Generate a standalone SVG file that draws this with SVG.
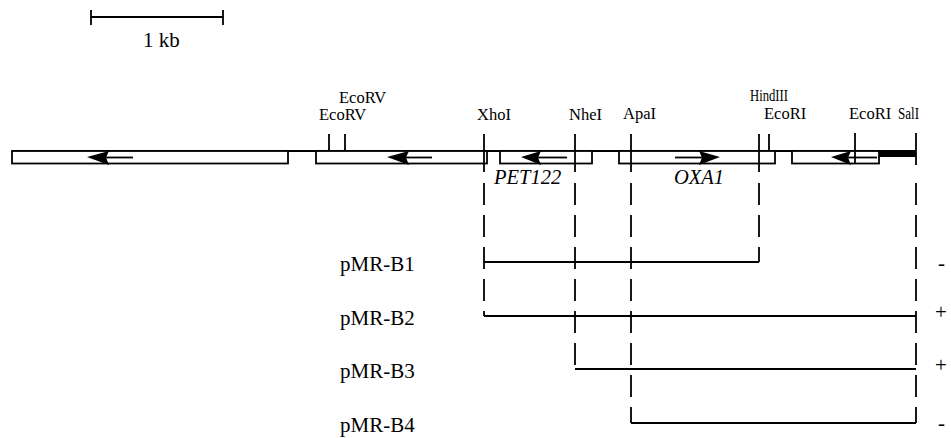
<svg xmlns="http://www.w3.org/2000/svg" width="951" height="438" viewBox="0 0 951 438">
<style>
.t{font-family:"Liberation Serif","Times New Roman",serif;fill:#000}
.re{font-size:16.5px}
.lb{font-size:21px}
.gi{font-size:20.5px;font-style:italic}
.ln{stroke:#000;stroke-width:1.8;fill:none}
.box{stroke:#000;stroke-width:1.8;fill:#fff}
.dash{stroke:#000;stroke-width:1.8;fill:none;stroke-dasharray:22 10}
.ah{fill:#000;stroke:none}
</style>
<rect width="951" height="438" fill="#fff"/>
<g id="scalebar">
<line class="ln" x1="91" y1="17" x2="223" y2="17" stroke-width="2"/>
<line class="ln" x1="91" y1="10" x2="91" y2="25" stroke-width="2"/>
<line class="ln" x1="223" y1="10" x2="223" y2="25" stroke-width="2"/>
<text class="t lb" x="143" y="47" font-size="20">1 kb</text>
</g>
<g id="map">
<polyline class="ln" points="12,151 916,151"/>
<rect class="box" x="12" y="151" width="276" height="12.5"/>
<rect class="box" x="316" y="151" width="171" height="12.5"/>
<rect class="box" x="500" y="151" width="92" height="12.5"/>
<rect class="box" x="619" y="151" width="156" height="12.5"/>
<rect class="box" x="792" y="151" width="87" height="12.5"/>
<rect x="879" y="150" width="37" height="7" fill="#000"/>
</g>
<g id="arrows">
<line class="ln" x1="106" y1="157.5" x2="133" y2="157.5" stroke-width="2"/>
<polygon class="ah" points="87,157 109,151 106,157.5 109,165"/>
<line class="ln" x1="406" y1="157.5" x2="432" y2="157.5" stroke-width="2"/>
<polygon class="ah" points="387,157 409,151 406,157.5 409,165"/>
<line class="ln" x1="538" y1="157.5" x2="567" y2="157.5" stroke-width="2"/>
<polygon class="ah" points="521,157 541,151 538,157.5 541,165"/>
<line class="ln" x1="675" y1="157.5" x2="702" y2="157.5" stroke-width="2"/>
<polygon class="ah" points="720,157 699,151 702,157.5 699,165"/>
<line class="ln" x1="848" y1="157.5" x2="877" y2="157.5" stroke-width="2"/>
<polygon class="ah" points="831,157 851,151 848,157.5 851,165"/>
</g>
<g id="sites">
<line class="ln" x1="329" y1="134" x2="329" y2="151"/>
<line class="ln" x1="345" y1="134" x2="345" y2="151"/>
<line class="ln" x1="484" y1="134" x2="484" y2="172"/>
<line class="ln" x1="575" y1="134" x2="575" y2="172"/>
<line class="ln" x1="631" y1="134" x2="631" y2="172"/>
<line class="ln" x1="759" y1="134" x2="759" y2="172"/>
<line class="ln" x1="769" y1="134" x2="769" y2="151"/>
<line class="ln" x1="855" y1="133" x2="855" y2="163"/>
<line class="ln" x1="916" y1="133" x2="916" y2="165"/>
<text class="t re" x="339" y="103">EcoRV</text>
<text class="t re" x="319" y="120">EcoRV</text>
<text class="t re" x="477" y="120">XhoI</text>
<text class="t re" x="569" y="120">NheI</text>
<text class="t re" x="623" y="119">ApaI</text>
<text class="t re" x="750" y="101" textLength="38" lengthAdjust="spacingAndGlyphs">HindIII</text>
<text class="t re" x="764" y="119">EcoRI</text>
<text class="t re" x="849" y="119">EcoRI</text>
<text class="t re" x="898" y="119" textLength="21" lengthAdjust="spacingAndGlyphs">SalI</text>
</g>
<g id="genes">
<text class="t gi" x="494" y="184">PET122</text>
<text class="t gi" x="674" y="184">OXA1</text>
</g>
<g id="connectors">
<line class="dash" x1="484" y1="183" x2="484" y2="316"/>
<line class="dash" x1="575" y1="183" x2="575" y2="369"/>
<line class="dash" x1="631" y1="183" x2="631" y2="423"/>
<line class="dash" x1="759" y1="183" x2="759" y2="262"/>
<line class="dash" x1="916" y1="183" x2="916" y2="423"/>
<line class="ln" x1="484" y1="262" x2="759" y2="262"/>
<line class="ln" x1="484" y1="316" x2="916" y2="316"/>
<line class="ln" x1="575" y1="369" x2="916" y2="369"/>
<line class="ln" x1="631" y1="423" x2="916" y2="423"/>
</g>
<g id="clones">
<text class="t lb" x="340" y="271">pMR-B1</text>
<text class="t lb" x="340" y="325">pMR-B2</text>
<text class="t lb" x="340" y="378">pMR-B3</text>
<text class="t lb" x="340" y="432">pMR-B4</text>
<text class="t lb" x="938" y="270">-</text>
<text class="t lb" x="935" y="319">+</text>
<text class="t lb" x="935" y="372">+</text>
<text class="t lb" x="938" y="430">-</text>
</g>
</svg>
